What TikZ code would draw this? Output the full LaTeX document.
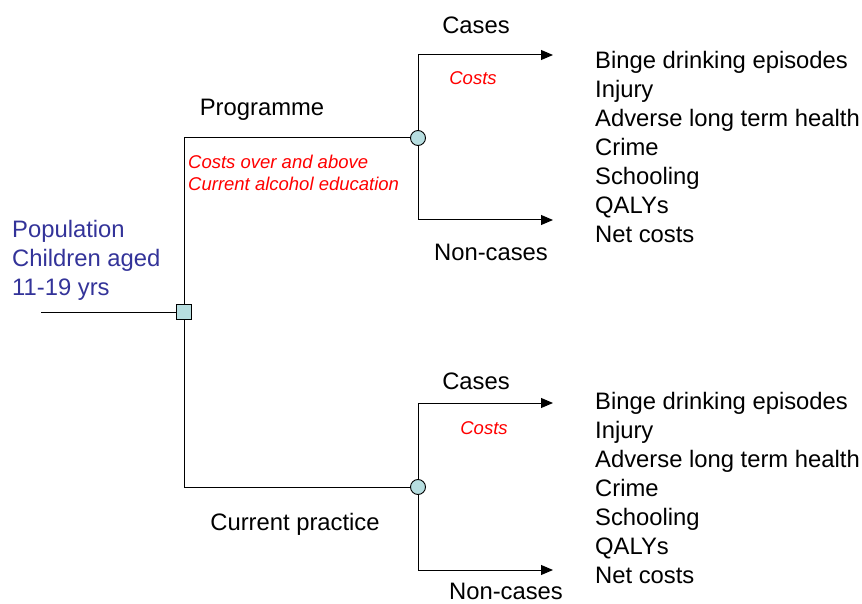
\documentclass[tikz,border=0pt]{standalone}
\usepackage{fontspec}
\setmainfont{Liberation Sans}
\usetikzlibrary{arrows.meta}
\definecolor{nodefill}{RGB}{183,222,224}
\definecolor{popblue}{RGB}{51,51,153}
\begin{document}
\begin{tikzpicture}[x=1pt,y=-1pt,
  line/.style={draw=black,line width=1.0pt},
  arr/.style={line,-{Triangle[length=12pt,width=10pt]}},
  decision/.style={draw=black,line width=0.9pt,fill=nodefill,minimum size=15pt,inner sep=0pt,rectangle},
  chance/.style={draw=black,line width=0.9pt,fill=nodefill,minimum size=15pt,inner sep=0pt,circle},
  lbl/.style={font=\fontsize{23.8}{29}\selectfont,inner sep=0pt,anchor=base},
  cost/.style={font=\fontsize{18.5}{22}\selectfont\itshape,text=red,inner sep=0pt},
  outlist/.style={font=\fontsize{23.8}{29}\selectfont,inner sep=0pt,anchor=north west,align=left}]
\useasboundingbox (0,0) rectangle (862,604);
% nodes
\coordinate (in) at (41,312);
\node[decision] (sq) at (184,312) {};
\coordinate (pTop) at (184,138);
\coordinate (pBot) at (184,487);
\node[chance] (c1) at (418,138) {};
\node[chance] (c2) at (418,487) {};
\coordinate (c1u) at (418,55);
\coordinate (c1d) at (418,220);
\coordinate (c2u) at (418,403);
\coordinate (c2d) at (418,570);
\coordinate (e1u) at (553,55);
\coordinate (e1d) at (553,220);
\coordinate (e2u) at (553,403);
\coordinate (e2d) at (553,570);
% connectors
\draw[line] (in) -- (sq.west);
\draw[line] (sq.north) -- (pTop) -- (c1.west);
\draw[line] (sq.south) -- (pBot) -- (c2.west);
\draw[line] (c1.north) -- (c1u);
\draw[line] (c1.south) -- (c1d);
\draw[line] (c2.north) -- (c2u);
\draw[line] (c2.south) -- (c2d);
\draw[arr] (c1u) -- (e1u);
\draw[arr] (c1d) -- (e1d);
\draw[arr] (c2u) -- (e2u);
\draw[arr] (c2d) -- (e2d);
% labels
\node[lbl] (cases1) at (476,33.5) {Cases};
\node[lbl] (non1) at (491,260.5) {Non-cases};
\node[lbl] (prog) at (262,116) {Programme};
\node[lbl] (cur) at (295,530) {Current practice};
\node[lbl] (cases2) at (476,389.5) {Cases};
\node[lbl] (non2) at (506,599.5) {Non-cases};
\node[cost,anchor=base] (cost1) at (473,85) {Costs};
\node[cost,anchor=base] (cost2) at (484,434) {Costs};
\node[cost,anchor=north west,align=left] (extra) at (188,155) {Costs over and above\\Current alcohol education};
\node[outlist,text=popblue] (pop) at (12,220.5) {Population\\Children aged\\11-19 yrs};
\node[outlist] (out1) at (595,51.5) {Binge drinking episodes\\Injury\\Adverse long term health\\Crime\\Schooling\\QALYs\\Net costs};
\node[outlist] (out2) at (595,392.5) {Binge drinking episodes\\Injury\\Adverse long term health\\Crime\\Schooling\\QALYs\\Net costs};
\end{tikzpicture}
\end{document}
